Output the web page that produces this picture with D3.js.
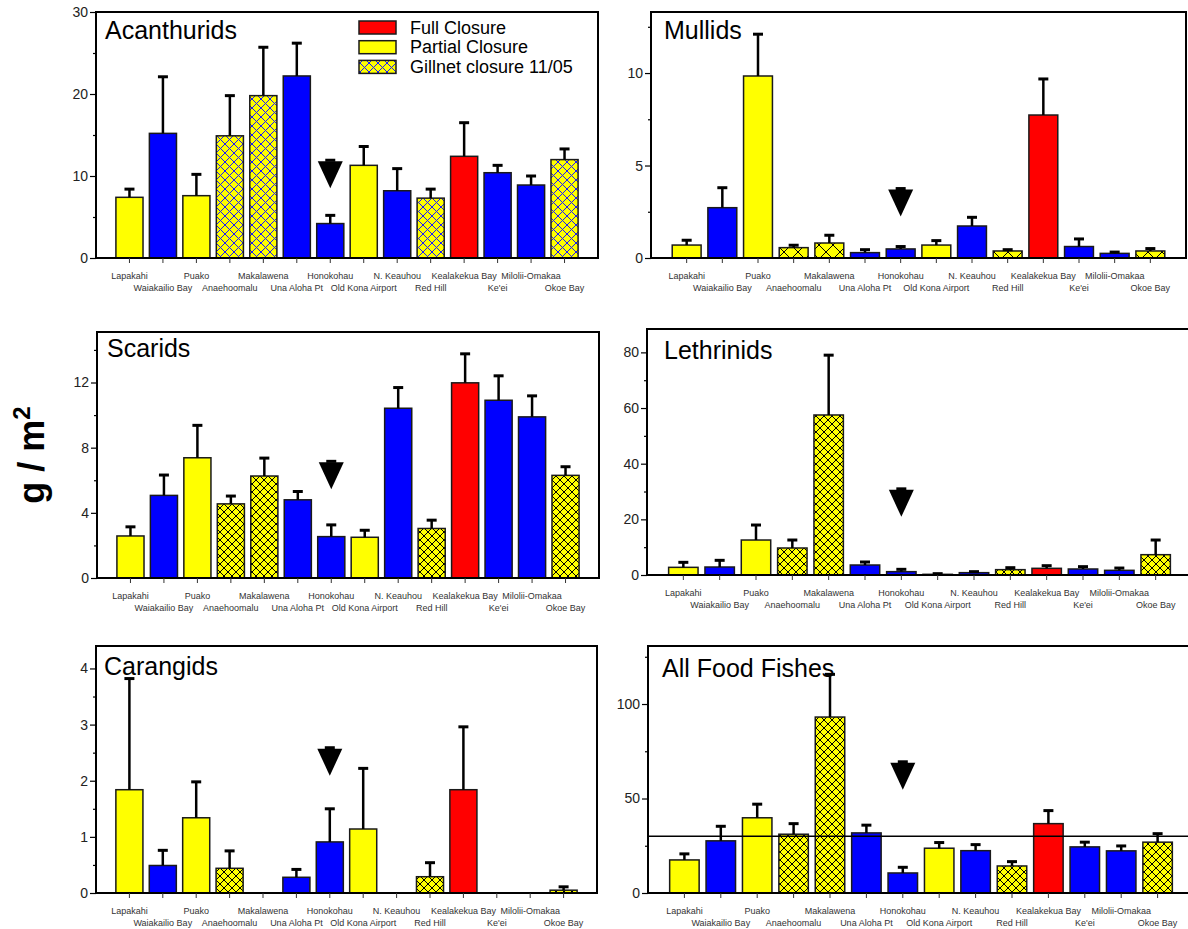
<!DOCTYPE html>
<html>
<head>
<meta charset="utf-8">
<script src="https://cdn.jsdelivr.net/npm/d3@7"></script>
<style>
  body { margin: 0; background: #fff; }
  svg { display: block; }
  text { font-family: "Liberation Sans", Arial, sans-serif; }
</style>
</head>
<body>
<svg id="chart" width="1188" height="929"></svg>
<script>
// ---- data: mean biomass (g/m2) and standard error per site ----
const sites = ["Lapakahi", "Waiakailio Bay", "Puako", "Anaehoomalu", "Makalawena",
  "Una Aloha Pt", "Honokohau", "Old Kona Airport", "N. Keauhou", "Red Hill",
  "Kealakekua Bay", "Ke'ei", "Milolii-Omakaa", "Okoe Bay"];
const siteStatus = ["partial", "open", "partial", "gillnet", "gillnet", "open", "open",
  "partial", "open", "gillnet", "full", "open", "open", "gillnet"];

const families = ["Acanthurids", "Mullids", "Scarids", "Lethrinids", "Carangids", "All Food Fishes"];

const acanthuridsMean = [7.4, 15.2, 7.6, 14.9, 19.8, 22.2, 4.2, 11.3, 8.2, 7.3, 12.4, 10.4, 8.9, 12.0];
const acanthuridsSE   = [1.0, 6.9, 2.6, 4.9, 5.9, 4.0, 1.0, 2.3, 2.7, 1.1, 4.1, 0.9, 1.1, 1.3];

const mullidsMean = [0.70, 2.72, 9.84, 0.56, 0.81, 0.29, 0.49, 0.70, 1.73, 0.38, 7.73, 0.62, 0.25, 0.38];
const mullidsSE   = [0.26, 1.08, 2.26, 0.13, 0.42, 0.16, 0.13, 0.24, 0.47, 0.07, 1.95, 0.41, 0.07, 0.13];

const scaridsMean = [2.58, 5.07, 7.38, 4.55, 6.26, 4.80, 2.54, 2.50, 10.42, 3.04, 11.98, 10.91, 9.89, 6.30];
const scaridsSE   = [0.56, 1.25, 1.99, 0.48, 1.10, 0.51, 0.72, 0.43, 1.27, 0.51, 1.78, 1.50, 1.29, 0.53];

const lethrinidsMean = [2.75, 2.87, 12.57, 9.7, 57.5, 3.59, 1.2, 0.24, 0.84, 1.92, 2.4, 2.16, 1.68, 7.3];
const lethrinidsSE   = [1.8, 2.4, 5.39, 2.87, 21.5, 1.08, 0.84, 0.24, 0.36, 0.71, 0.95, 0.84, 0.82, 5.27];

const carangidsMean = [1.84, 0.49, 1.34, 0.44, 0, 0.28, 0.91, 1.14, 0, 0.29, 1.84, 0, 0, 0.05];
const carangidsSE   = [1.98, 0.27, 0.64, 0.31, 0, 0.14, 0.59, 1.08, 0, 0.25, 1.12, 0, 0, 0.06];

const allFoodMean = [17.5, 27.6, 39.8, 31.1, 93.1, 31.8, 10.6, 23.7, 22.4, 14.3, 36.7, 24.4, 22.3, 26.9];
const allFoodSE   = [3.2, 7.7, 7.2, 5.6, 22.6, 4.1, 3.0, 3.0, 3.2, 2.3, 6.9, 2.5, 2.6, 4.5];

const familyMeans = [acanthuridsMean, mullidsMean, scaridsMean, lethrinidsMean, carangidsMean, allFoodMean];
const familySE = [acanthuridsSE, mullidsSE, scaridsSE, lethrinidsSE, carangidsSE, allFoodSE];

// y axis tick labels and minor ticks for each panel
const majorTicks = [[0, 10, 20, 30], [0, 5, 10], [0, 4, 8, 12], [0, 20, 40, 60, 80], [0, 1, 2, 3, 4], [0, 50, 100]];
const minorTicks = [[5, 15, 25], [2.5, 7.5, 12.5], [2, 6, 10, 14], [10, 30, 50, 70], [0.5, 1.5, 2.5, 3.5], [25, 75, 125]];
const axisMax = [30, 13.3, 15.1, 88.4, 4.4, 130.7];

// level of the arrow marking Honokohau in each panel
const markerSite = "Honokohau";
const markerLevel = [11.8, 3.7, 7.1, 30.6, 2.57, 68.9];

// overall mean line drawn on the all-food-fishes panel
const referenceLevel = 30;

const legendLabels = ["Full Closure", "Partial Closure", "Gillnet closure 11/05"];
const legendStatus = ["full", "partial", "gillnet"];

// ---- layout ----
const panels = [
  { x0: 96,  x1: 598,  top: 12,  zero: 258, tdx: 9,  tdy: 27, hatch: 9,  hatchColor: "#1a1aff" },
  { x0: 651, x1: 1186, top: 12,  zero: 258, tdx: 13, tdy: 27, hatch: 14, hatchColor: "#000" },
  { x0: 97,  x1: 599,  top: 332, zero: 578, tdx: 10, tdy: 25, hatch: 8,  hatchColor: "#000" },
  { x0: 647, x1: 1192, top: 329, zero: 575, tdx: 17, tdy: 30, hatch: 8,  hatchColor: "#000" },
  { x0: 96,  x1: 597,  top: 646, zero: 893, tdx: 8,  tdy: 29, hatch: 8,  hatchColor: "#000" },
  { x0: 648, x1: 1194, top: 646, zero: 893, tdx: 14, tdy: 31, hatch: 8,  hatchColor: "#000" }
];

const colors = { full: "#ff0000", partial: "#ffff00", open: "#0000ff" };

const svg = d3.select("#chart");
const defs = svg.append("defs");

function makeHatch(id, size, color) {
  const p = defs.append("pattern")
    .attr("id", id)
    .attr("patternUnits", "userSpaceOnUse")
    .attr("width", size).attr("height", size);
  p.append("rect").attr("width", size).attr("height", size).attr("fill", "#ffff00");
  p.append("path")
    .attr("d", `M0,0L${size},${size}M0,${size}L${size},0`)
    .attr("stroke", color).attr("stroke-width", 1).attr("fill", "none");
  return `url(#${id})`;
}

families.forEach((name, i) => {
  const L = panels[i];
  const means = familyMeans[i];
  const se = familySE[i];
  const hatchFill = makeHatch("hatch" + i, L.hatch, L.hatchColor);
  const fillFor = s => s === "gillnet" ? hatchFill : colors[s];

  const x = d3.scaleBand().domain(sites).range([L.x0, L.x1])
    .paddingInner(0.19).paddingOuter(0.595);
  const y = d3.scaleLinear().domain([0, axisMax[i]]).range([L.zero, L.top]);
  const bw = x.bandwidth();
  const rows = sites.map((s, k) => ({ site: s, mean: means[k], se: se[k], status: siteStatus[k], k }));

  const g = svg.append("g");

  // bars
  g.selectAll("rect.bar").data(rows).join("rect")
    .attr("class", "bar")
    .attr("x", d => x(d.site))
    .attr("y", d => y(d.mean))
    .attr("width", bw)
    .attr("height", d => L.zero - y(d.mean))
    .attr("fill", d => fillFor(d.status))
    .attr("stroke", "#1a1a1a").attr("stroke-width", 1.5);

  // reference line over the bars
  if (i === 5) {
    g.append("line")
      .attr("x1", L.x0).attr("x2", L.x1)
      .attr("y1", y(referenceLevel)).attr("y2", y(referenceLevel))
      .attr("stroke", "#000").attr("stroke-width", 1.5);
  }

  // upper error bars
  const eb = g.selectAll("g.err").data(rows.filter(d => d.se > 0)).join("g").attr("class", "err");
  eb.append("line")
    .attr("x1", d => x(d.site) + bw / 2).attr("x2", d => x(d.site) + bw / 2)
    .attr("y1", d => y(d.mean)).attr("y2", d => y(d.mean + d.se))
    .attr("stroke", "#000").attr("stroke-width", 2.5);
  eb.append("line")
    .attr("x1", d => x(d.site) + bw / 2 - 5).attr("x2", d => x(d.site) + bw / 2 + 5)
    .attr("y1", d => y(d.mean + d.se)).attr("y2", d => y(d.mean + d.se))
    .attr("stroke", "#000").attr("stroke-width", 3);

  // frame
  g.append("rect")
    .attr("x", L.x0).attr("y", L.top)
    .attr("width", L.x1 - L.x0).attr("height", L.zero - L.top)
    .attr("fill", "none").attr("stroke", "#000").attr("stroke-width", 2);

  // arrow marking Honokohau
  const cx = x(markerSite) + bw / 2;
  const ay = y(markerLevel[i]);
  g.append("path")
    .attr("d", `M${cx - 12.5},${ay}L${cx + 12.5},${ay}L${cx},${ay + 27}Z`)
    .attr("fill", "#000");
  g.append("rect")
    .attr("x", cx - 5).attr("y", ay - 2.5).attr("width", 10).attr("height", 3)
    .attr("fill", "#000");

  // y axis
  const ax = g.append("g").attr("transform", `translate(${L.x0},0)`)
    .call(d3.axisLeft(y).tickValues(majorTicks[i]).tickSize(6).tickPadding(2).tickFormat(d3.format("d")));
  ax.select(".domain").remove();
  ax.selectAll("line").attr("stroke", "#000").attr("stroke-width", 1.2);
  ax.selectAll("text").attr("font-size", 14).attr("fill", "#222")
    .attr("font-family", "'Liberation Sans', Arial, sans-serif");
  const axm = g.append("g").attr("transform", `translate(${L.x0},0)`)
    .call(d3.axisLeft(y).tickValues(minorTicks[i]).tickSize(3).tickFormat(""));
  axm.select(".domain").remove();
  axm.selectAll("line").attr("stroke", "#000").attr("stroke-width", 1.2);

  // x ticks and staggered site labels
  g.selectAll("line.xt").data(rows).join("line")
    .attr("class", "xt")
    .attr("x1", d => x(d.site) + bw / 2).attr("x2", d => x(d.site) + bw / 2)
    .attr("y1", L.zero).attr("y2", L.zero + 5)
    .attr("stroke", "#333").attr("stroke-width", 1);
  g.selectAll("text.xl").data(rows).join("text")
    .attr("class", "xl")
    .attr("x", d => x(d.site) + bw / 2)
    .attr("y", d => L.zero + (d.k % 2 ? 33 : 21))
    .attr("text-anchor", "middle")
    .attr("font-size", 9).attr("fill", "#333")
    .text(d => d.site);

  // panel title
  g.append("text")
    .attr("x", L.x0 + L.tdx).attr("y", L.top + L.tdy)
    .attr("font-size", 25).attr("fill", "#000")
    .text(name);

  // legend in the first panel
  if (i === 0) {
    const lg = g.append("g");
    legendLabels.forEach((lab, j) => {
      const yy = 21 + j * 19.7;
      lg.append("rect")
        .attr("x", 359).attr("y", yy).attr("width", 37).attr("height", 13)
        .attr("fill", fillFor(legendStatus[j]))
        .attr("stroke", "#1a1a1a").attr("stroke-width", 1.5);
      lg.append("text")
        .attr("x", 410).attr("y", yy + 12.5)
        .attr("font-size", 18).attr("fill", "#000")
        .text(lab);
    });
  }
});

// shared y axis title
svg.append("text")
  .attr("transform", "translate(44,455) rotate(-90)")
  .attr("text-anchor", "middle")
  .attr("font-size", 36).attr("font-weight", "bold").attr("fill", "#000")
  .html('g / m<tspan dy="-14" font-size="24">2</tspan>');
</script>
</body>
</html>
